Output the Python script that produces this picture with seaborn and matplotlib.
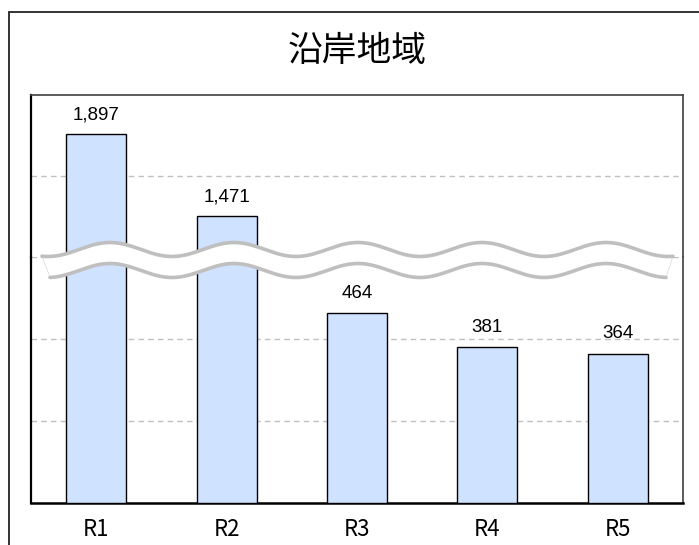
import numpy as np
import pandas as pd
import matplotlib
matplotlib.use("Agg")
import matplotlib.pyplot as plt
from matplotlib.patches import Rectangle, Polygon
import seaborn as sns

regions = ["R1", "R2", "R3", "R4", "R5"]
values = [1897, 1471, 464, 381, 364]
title = "沿岸地域"

# ranges of the two parts of the broken axis
low_lim = (0, 600)
high_lim = (1260, 2100)

df = pd.DataFrame({"region": regions, "value": values})

sns.set_style("white")
plt.rcParams["font.family"] = ["Noto Sans CJK JP", "DejaVu Sans"]

W, H = 699, 545
fig = plt.figure(figsize=(W / 100, H / 100), dpi=100)

def fx(px):
    return px / W

def fy(py):
    return 1 - py / H

left, right, top, brk, bottom = 31, 683, 95, 257, 502.6
ax_hi = fig.add_axes([fx(left), fy(brk), fx(right - left), fy(top) - fy(brk)])
ax_lo = fig.add_axes([fx(left), fy(bottom), fx(right - left), fy(brk) - fy(bottom)])

bar_color = "#cfe2ff"
for ax, lim, ticks in [(ax_hi, high_lim, [1680]), (ax_lo, low_lim, [200, 400, 600])]:
    sns.barplot(data=df, x="region", y="value", ax=ax, color=bar_color,
                saturation=1, edgecolor="black", linewidth=1, width=0.46, zorder=3)
    ax.set_ylim(*lim)
    ax.set_yticks(ticks)
    ax.set_yticklabels([])
    ax.tick_params(axis="y", length=0)
    ax.grid(axis="y", color="#c0c0c0", linestyle=(0, (4, 3)), linewidth=1)
    ax.set_axisbelow(True)
    ax.set_xlabel("")
    ax.set_ylabel("")
    labels = [f"{v:,}" if lim[0] < v <= lim[1] else "" for v in values]
    ax.bar_label(ax.containers[0], labels=labels, padding=8, fontsize=13.5,
                 family="Liberation Sans", color="black")

ax_hi.set_xticks([])
ax_lo.tick_params(axis="x", length=0, pad=11, labelsize=16)
for lab in ax_lo.get_xticklabels():
    lab.set_color("black")

ax_hi.spines["bottom"].set_visible(False)
ax_lo.spines["top"].set_visible(False)
for ax in (ax_hi, ax_lo):
    ax.spines["left"].set_color("black")
    ax.spines["left"].set_linewidth(1.6)
    ax.spines["right"].set_color("#404040")
    ax.spines["right"].set_linewidth(1.2)
ax_hi.spines["top"].set_color("#404040")
ax_hi.spines["top"].set_linewidth(1.2)
ax_lo.spines["bottom"].set_color("black")
ax_lo.spines["bottom"].set_linewidth(1.8)

# wavy break mark
def wave(x):
    return 249.5 - 7 * np.cos(2 * np.pi * (x - 110) / 124)

xt = np.linspace(42, 673, 300)
xb = np.linspace(50, 666, 300)
yt = wave(xt)
yb = wave(xb) + 21
poly = np.vstack([np.column_stack([xt, yt]), np.column_stack([xb[::-1], yb[::-1]])])
poly_fig = np.column_stack([fx(poly[:, 0]), fy(poly[:, 1])])
fig.add_artist(Polygon(poly_fig, closed=True, facecolor="white", edgecolor="#d8d8d8",
                       linewidth=0.5, transform=fig.transFigure, zorder=10))
for xs, ys in [(xt, yt), (xb, yb)]:
    fig.add_artist(plt.Line2D(fx(xs), fy(ys), color="#bfbfbf", linewidth=2.6,
                              transform=fig.transFigure, zorder=11))

# outer frame and title
fig.add_artist(Rectangle((fx(9), fy(560)), 1.2, fy(12) - fy(560), fill=False,
                         edgecolor="#222222", linewidth=1.3, transform=fig.transFigure))
fig.text(fx(357), fy(52), title, ha="center", va="center", fontsize=25, color="black")

fig.savefig("out.png", dpi=100)
